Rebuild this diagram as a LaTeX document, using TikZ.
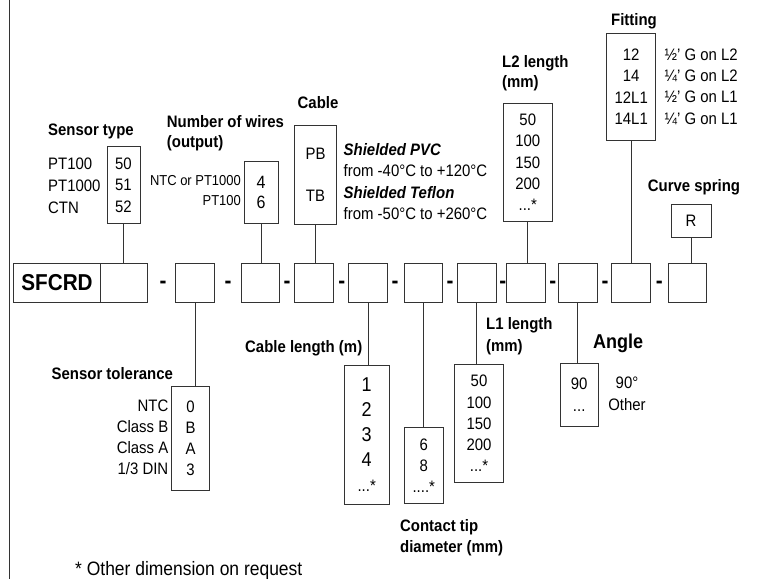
\documentclass[tikz,border=0pt]{standalone}
\usepackage{fontspec}
\setmainfont[Ligatures=Common, FakeStretch=0.9]{Liberation Sans}
\usepackage{tikz}

\begin{document}
\begin{tikzpicture}[x=1pt, y=-1pt,
  codebox/.style={draw=black!80, line width=.8pt, minimum width=38.5pt, minimum height=39pt, inner sep=0pt},
  optbox/.style={draw=black!80, line width=.8pt, inner sep=0pt, align=center},
  txt/.style={inner sep=0pt, font=\fontsize{16.6}{#1}\selectfont}, txt/.default=18,
  head/.style={inner sep=0pt, font=\fontsize{16.6}{#1}\selectfont\bfseries}, head/.default=18,
  sepmark/.style={inner sep=0pt, font=\fontsize{23}{24}\selectfont\bfseries},
  link/.style={draw=black!80, line width=.8pt}]
\useasboundingbox (0,0) rectangle (758,579);
\draw[link] (9,0) -- (9,579);

% main code row
\node[codebox, minimum width=87.4pt, font=\fontsize{23}{24}\selectfont\bfseries] (sfcrd) at (57,282.5) {SFCRD};
\node[codebox, minimum width=46.3pt] (m1) at (123.8,282.5) {};
\node[codebox] (m2) at (195,282.5) {};
\node[codebox] (m3) at (260.3,282.5) {};
\node[codebox] (m4) at (314,282.5) {};
\node[codebox] (m5) at (368,282.5) {};
\node[codebox] (m6) at (423.3,282.5) {};
\node[codebox] (m7) at (476.7,282.5) {};
\node[codebox] (m8) at (526,282.5) {};
\node[codebox] (m9) at (577.7,282.5) {};
\node[codebox] (m10) at (630.8,282.5) {};
\node[codebox] (m11) at (687.2,282.5) {};

\node[sepmark] (s1) at (163,285) {-};
\node[sepmark] (s2) at (228,285) {-};
\node[sepmark] (s3) at (287,285) {-};
\node[sepmark] (s4) at (341.7,285) {-};
\node[sepmark] (s5) at (395,285) {-};
\node[sepmark] (s6) at (450,285) {-};
\node[sepmark] (s7) at (502.7,285) {-};
\node[sepmark] (s8) at (552.7,285) {-};
\node[sepmark] (s9) at (605,285) {-};
\node[sepmark] (s10) at (659.3,285) {-};

% options above
\node[head, anchor=west] (stypehd) at (48,131) {Sensor type};
\node[txt=21.7, align=left, anchor=west] (stypelab) at (48,185.7) {PT100\\PT1000\\CTN};
\node[optbox, minimum width=33pt, minimum height=76.6pt, txt=21.7] (stype) at (123.5,185) {50\\51\\52};

\node[head=20, align=left, anchor=west] (wireshd) at (166.7,133) {Number of wires\\(output)};
\node[inner sep=0pt, align=right, anchor=east, font=\fontsize{14.4}{20.7}\selectfont] (wireslab) at (241,190.5) {NTC or PT1000\\PT100};
\node[optbox, minimum width=34pt, minimum height=61.6pt, font=\fontsize{17.8}{19.5}\selectfont] (wires) at (261.2,192.5) {4\\6};

\node[head] (cablehd) at (318,103) {Cable};
\node[optbox, minimum width=42.4pt, minimum height=99pt, txt=42.4] (cable) at (315.5,174.5) {PB\\TB};
\node[txt=21.3, align=left, anchor=west] (cabledesc) at (343.5,181.5) {\textbf{\textit{Shielded PVC}}\\from -40°C to +120°C\\\textbf{\textit{Shielded Teflon}}\\from -50°C to +260°C};

\node[head=20, align=left, anchor=west] (ltwohd) at (502,73) {L2 length\\(mm)};
\node[optbox, minimum width=49pt, minimum height=118.4pt, txt=21.3] (ltwo) at (527.8,162.5) {50\\100\\150\\200\\...*};

\node[head] (fithd) at (634,21.7) {Fitting};
\node[optbox, minimum width=49pt, minimum height=106.7pt, txt=21.1] (fit) at (631.2,86.7) {12\\14\\12L1\\14L1};
\node[txt=21.1, align=left, anchor=west] (fitdesc) at (664.5,86.7) {½' G on L2\\¼' G on L2\\½' G on L1\\¼' G on L1};

\node[head] (springhd) at (694,187.3) {Curve spring};
\node[optbox, minimum width=40pt, minimum height=33pt, txt] (spring) at (691,220.8) {R};

% options below
\node[head, anchor=west] (tolhd) at (51.5,373.3) {Sensor tolerance};
\node[txt=21.1, align=right, anchor=east] (tollab) at (168.5,437) {NTC\\Class B\\Class A\\1/3 DIN};
\node[optbox, minimum width=37.6pt, minimum height=104.7pt, txt=21.1] (tol) at (190.5,438.3) {0\\B\\A\\3};

\node[head, anchor=west] (clenhd) at (245,348.3) {Cable length (m)};
\node[optbox, minimum width=44.7pt, minimum height=139pt, font=\fontsize{20}{25}\selectfont] (clen) at (366.7,434.5) {1\\2\\3\\4\\{\fontsize{16.6}{16.6}\selectfont...*}};

\node[optbox, minimum width=39pt, minimum height=75.6pt, txt=21] (tip) at (423.8,465.5) {6\\8\\....*};
\node[head=21.6, align=left, anchor=west] (tiphd) at (400,537.5) {Contact tip\\diameter (mm)};

\node[head=21.7, align=left, anchor=west] (lonehd) at (486,336) {L1 length\\(mm)};
\node[optbox, minimum width=48.6pt, minimum height=118.4pt, txt=21.3] (lone) at (479,423.5) {50\\100\\150\\200\\...*};

\node[inner sep=0pt, anchor=west, font=\fontsize{20}{20}\selectfont\bfseries] (anglehd) at (593,343.3) {Angle};
\node[optbox, minimum width=38.3pt, minimum height=62.7pt, txt=22] (angle) at (579.2,394.7) {90\\...};
\node[txt=22, align=center] (angledesc) at (627,394) {90°\\Other};

\node[inner sep=0pt, anchor=west, font=\fontsize{19.4}{20}\selectfont] (note) at (75,570) {* Other dimension on request};

% links
\draw[link] (stype.south) -- (stype.south |- m1.north);
\draw[link] (wires.south) -- (wires.south |- m3.north);
\draw[link] (cable.south) -- (cable.south |- m4.north);
\draw[link] (ltwo.south) -- (ltwo.south |- m8.north);
\draw[link] (fit.south) -- (fit.south |- m10.north);
\draw[link] (spring.south) -- (spring.south |- m11.north);
\draw[link] (m2.south) -- (m2.south |- tol.north);
\draw[link] (m5.south) -- (m5.south |- clen.north);
\draw[link] (m6.south) -- (m6.south |- tip.north);
\draw[link] (m7.south) -- (m7.south |- lone.north);
\draw[link] (m9.south) -- (m9.south |- angle.north);

\end{tikzpicture}
\end{document}
